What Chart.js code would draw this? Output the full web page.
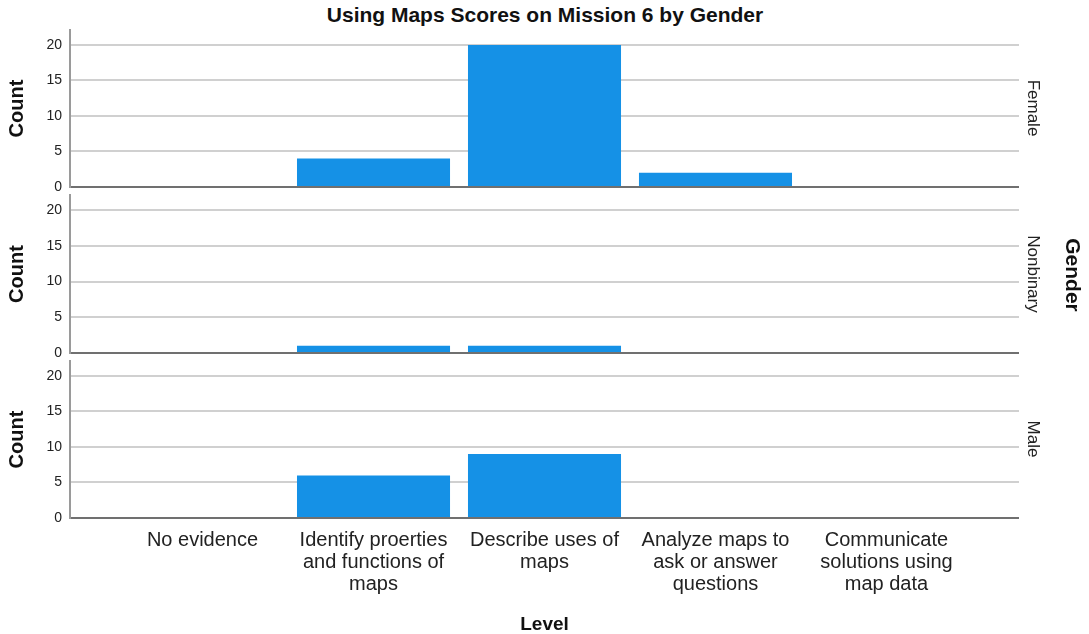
<!DOCTYPE html>
<html>
<head>
<meta charset="utf-8">
<script src="https://cdn.jsdelivr.net/npm/chart.js@4.4.1/dist/chart.umd.min.js"></script>
<style>
  html, body { margin: 0; padding: 0; background: #fff; }
  #wrap { position: relative; width: 1089px; height: 634px; overflow: hidden; font-family: 'Liberation Sans', Arial, sans-serif; }
  .cv { position: absolute; left: 0; }
  .txt { position: absolute; color: #111; white-space: nowrap; }
  .vert { writing-mode: vertical-rl; transform: translate(-50%, -50%); }
</style>
</head>
<body>
<div id="wrap">
  <div class="txt" id="title" style="left:545px; top:15px; transform:translate(-50%,-50%); font-weight:bold; font-size:21px;">Using Maps Scores on Mission 6 by Gender</div>
  <canvas id="c1" class="cv" style="top:10px;" width="1089" height="197"></canvas>
  <canvas id="c2" class="cv" style="top:175px;" width="1089" height="198"></canvas>
  <canvas id="c3" class="cv" style="top:341px;" width="1089" height="293"></canvas>
  <div class="txt vert" style="left:1033px; top:108px; font-size:17px; color:#222;">Female</div>
  <div class="txt vert" style="left:1033px; top:274px; font-size:17px; color:#222;">Nonbinary</div>
  <div class="txt vert" style="left:1033px; top:439px; font-size:17px; color:#222;">Male</div>
  <div class="txt vert" style="left:1073px; top:275px; font-size:21px; font-weight:bold;">Gender</div>
</div>
<script>
// ---- data ----
const categories = ['No evidence', 'Identify proerties and functions of maps', 'Describe uses of maps', 'Analyze maps to ask or answer questions', 'Communicate solutions using map data'];
const categoryLines = [
  ['No evidence'],
  ['Identify proerties', 'and functions of', 'maps'],
  ['Describe uses of', 'maps'],
  ['Analyze maps to', 'ask or answer', 'questions'],
  ['Communicate', 'solutions using', 'map data']
];
const femaleCounts = [0, 4, 20, 2, 0];
const nonbinaryCounts = [0, 1, 1, 0, 0];
const maleCounts = [0, 6, 9, 0, 0];
const yTicks = [0, 5, 10, 15, 20];

const FONT = "'Liberation Sans', Arial, sans-serif";
const BAR = '#1591e6';

function makePanel(id, counts, isBottom) {
  const data = counts.map((v, i) => ({ x: i, y: v }));
  const cfg = {
    type: 'bar',
    data: { datasets: [{ data: data, backgroundColor: BAR, borderWidth: 0, barPercentage: 0.895, categoryPercentage: 1.0 }] },
    options: {
      responsive: false,
      animation: false,
      events: [],
      layout: { padding: { left: 0, right: 70, top: 20, bottom: isBottom ? 0 : 20 } },
      plugins: { legend: { display: false }, tooltip: { enabled: false } },
      scales: {
        x: {
          type: 'linear',
          min: -0.775,
          max: 4.775,
          offset: false,
          display: isBottom,
          grid: { display: false, drawTicks: false },
          border: { display: false },
          ticks: {
            stepSize: 1,
            includeBounds: false,
            autoSkip: false,
            maxRotation: 0,
            minRotation: 0,
            padding: 12,
            color: '#222',
            font: { family: FONT, size: 20, lineHeight: 1.08 },
            callback: (v) => categoryLines[v] || ''
          },
          afterBuildTicks: (s) => { s.ticks = categories.map((c, i) => ({ value: i })); },
          afterFit: (s) => { if (isBottom) s.height = 116; },
          title: {
            display: isBottom,
            text: 'Level',
            color: '#111',
            font: { family: FONT, size: 19, weight: 'bold', lineHeight: 1.0 },
            padding: { top: 0, bottom: 0 }
          }
        },
        y: {
          type: 'linear',
          min: 0,
          max: 22.1,
          afterBuildTicks: (s) => { s.ticks = yTicks.map(v => ({ value: v })); },
          afterFit: (s) => { s.width = 70; },
          grid: {
            drawTicks: false,
            lineWidth: 2,
            color: (ctx) => (ctx.tick && ctx.tick.value === 0) ? '#707070' : '#d0d0d0'
          },
          border: { display: true, color: '#9a9a9a', width: 2 },
          ticks: {
            padding: 8,
            color: '#222',
            font: { family: FONT, size: 14 }
          },
          title: {
            display: true,
            text: 'Count',
            color: '#111',
            font: { family: FONT, size: 20, weight: 'bold', lineHeight: 1.2 },
            padding: { top: 5, bottom: 0 }
          }
        }
      }
    }
  };
  return new Chart(document.getElementById(id), cfg);
}

makePanel('c1', femaleCounts, false);
makePanel('c2', nonbinaryCounts, false);
makePanel('c3', maleCounts, true);
</script>
</body>
</html>
